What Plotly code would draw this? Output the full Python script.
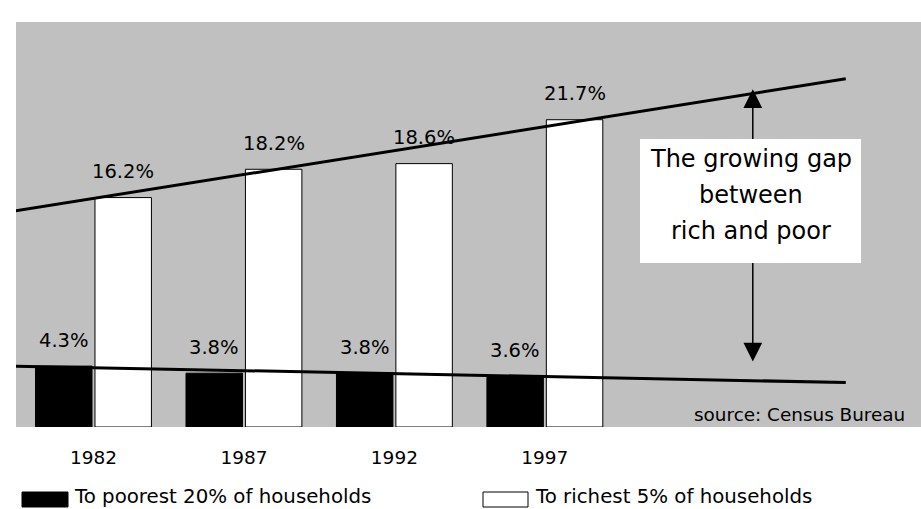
import numpy as np
import plotly.graph_objects as go

# ---------------- data ----------------
years = ["1982", "1987", "1992", "1997"]
poorest = [4.3, 3.8, 3.8, 3.6]
richest = [16.2, 18.2, 18.6, 21.7]
poorest_name = "To poorest 20% of households"
richest_name = "To richest 5% of households"
note_lines = ["The growing gap", "between", "rich and poor"]
source_text = "source: Census Bureau"

# ---------------- layout constants ----------------
W, H = 921, 509
ML, MR, MT, MB = 16, 0, 22, 82
PW, PH = W - ML - MR, H - MT - MB
XR = [-0.515, 5.5]
YR = [0, 28.6]
BARGAP = 0.21
BARGROUPGAP = 0.05
FONT = "DejaVu Sans"


def px(xp):
    return (xp - ML) / PW


def py(yp):
    return (H - MB - yp) / PH


xi = np.arange(len(years))
fig = go.Figure()
fig.add_bar(x=xi, y=poorest, name=poorest_name,
            marker=dict(color="black", line=dict(color="black", width=1)))
fig.add_bar(x=xi, y=richest, name=richest_name,
            marker=dict(color="white", line=dict(color="black", width=1)))

# linear trendlines (backward 0.5, forward 2 periods)
tx = np.array([-0.55, len(years) - 1 + 2])
for vals in (poorest, richest):
    k, b = np.polyfit(xi, vals, 1)
    fig.add_scatter(x=tx, y=k * tx + b, mode="lines",
                    line=dict(color="black", width=3),
                    showlegend=False, hoverinfo="skip")

# value labels
off = (1 - BARGAP) / 4
for i, v in enumerate(poorest):
    fig.add_annotation(x=i - off, y=v, text=f"{v}%", showarrow=False,
                       yanchor="middle", yshift=26,
                       font=dict(family=FONT, size=19.5, color="black"))
for i, v in enumerate(richest):
    fig.add_annotation(x=i + off, y=v, text=f"{v}%", showarrow=False,
                       yanchor="middle", yshift=26,
                       font=dict(family=FONT, size=19.5, color="black"))

# gap arrow (double headed)
AX = 4.382
fig.add_annotation(x=AX, y=23.85, ax=AX, ay=4.52, xref="x", yref="y",
                   axref="x", ayref="y", text="", showarrow=True,
                   arrowside="end+start", arrowhead=2, startarrowhead=2,
                   arrowsize=2.5, startarrowsize=2.5, arrowwidth=1.5,
                   arrowcolor="black", standoff=0, startstandoff=0)

# white note box
fig.add_annotation(x=px(750.5), y=py(201), xref="paper", yref="paper",
                   text=" ", showarrow=False, width=221, height=124,
                   bgcolor="white", borderpad=0, borderwidth=0,
                   xanchor="center", yanchor="middle")
for line, yc in zip(note_lines, [158.7, 194.7, 230.7]):
    fig.add_annotation(x=px(750.5), y=py(yc), xref="paper", yref="paper",
                       text=line, showarrow=False, xanchor="center",
                       yanchor="middle",
                       font=dict(family=FONT, size=24, color="black"))

# source
fig.add_annotation(x=px(907), y=py(414.5), xref="paper", yref="paper",
                   text=source_text, showarrow=False, xanchor="right",
                   yanchor="middle",
                   font=dict(family=FONT, size=18.4, color="black"))

# manual legend
fig.add_shape(type="rect", xref="paper", yref="paper",
              x0=px(22), x1=px(68), y0=py(507), y1=py(492),
              fillcolor="black", line=dict(color="black", width=1))
fig.add_shape(type="rect", xref="paper", yref="paper",
              x0=px(483), x1=px(528), y0=py(507), y1=py(492),
              fillcolor="white", line=dict(color="black", width=1))
fig.add_annotation(x=px(72), y=py(497), xref="paper", yref="paper",
                   text=poorest_name, showarrow=False, xanchor="left",
                   yanchor="middle",
                   font=dict(family=FONT, size=19.8, color="black"))
fig.add_annotation(x=px(533), y=py(497), xref="paper", yref="paper",
                   text=richest_name, showarrow=False, xanchor="left",
                   yanchor="middle",
                   font=dict(family=FONT, size=19.8, color="black"))

fig.update_layout(
    width=W, height=H,
    margin=dict(l=ML, r=MR, t=MT, b=MB, pad=0),
    paper_bgcolor="white", plot_bgcolor="#c0c0c0",
    barmode="group", bargap=BARGAP, bargroupgap=BARGROUPGAP,
    showlegend=False,
    font=dict(family=FONT, color="black"),
    xaxis=dict(range=XR, tickvals=list(xi), ticktext=years,
               showgrid=False, zeroline=False, showline=False, ticks="",
               ticklabelstandoff=17,
               tickfont=dict(family=FONT, size=18.5, color="black"),
               fixedrange=True),
    yaxis=dict(range=YR, visible=False, showgrid=False, zeroline=False,
               fixedrange=True),
)

fig.write_html("out.html", config={"displayModeBar": False},
               post_script="document.body.style.margin='0';"
                           "document.body.style.overflow='hidden';")
